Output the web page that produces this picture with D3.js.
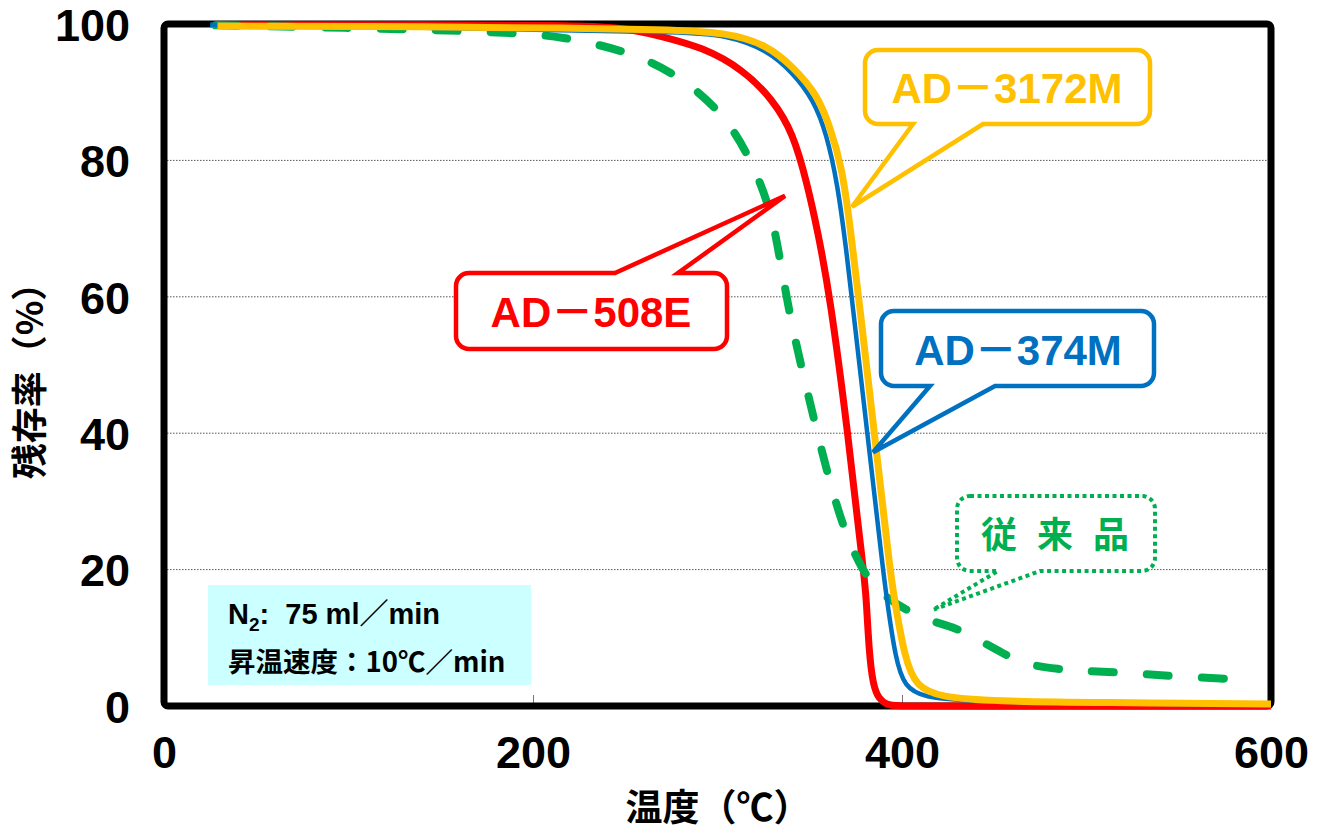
<!DOCTYPE html>
<html>
<head>
<meta charset="utf-8">
<script src="https://cdn.jsdelivr.net/npm/d3@7"></script>
<style>
  html, body { margin: 0; padding: 0; background: #fff; }
  svg { display: block; }
  text { white-space: pre; }
</style>
</head>
<body>
<div id="chart"></div>
<script>
// ---------------- data ----------------
const xTicks = [0, 200, 400, 600];
const yTicks = [0, 20, 40, 60, 80, 100];
const yGrid = [20, 40, 60, 80];

const redT = [28, 150, 215, 250, 269, 292, 314, 330, 341, 348.5, 354.5, 361, 370.7, 379, 380.5, 382.1, 384.3, 387.5, 391.8, 396, 420, 600];
const redV = [99.9, 99.9, 99.8, 99.5, 98.2, 96.6, 93.3, 88.9, 84, 76.7, 69.4, 60, 40, 20, 16.6, 8, 3, 1, 0.2, 0, 0, 0];

const blueT = [25, 150, 215, 280, 305, 327, 341, 352, 359, 365, 369.8, 372.7, 381.2, 389.7, 391.3, 396.5, 401.6, 411, 438, 600];
const blueV = [99.9, 99.4, 99.1, 98.8, 98.4, 96.2, 92.8, 88.9, 84, 76.7, 66.9, 60, 40, 20, 16.6, 6.7, 2.8, 1.3, 0.5, 0.2];

const yellowT = [29, 150, 215, 270, 305, 327, 341, 354, 361, 367.5, 371.8, 376.5, 385, 393.5, 395.3, 401.6, 408, 420.6, 450, 507, 600];
const yellowV = [99.7, 99.6, 99.4, 99.2, 98.8, 96.9, 93.7, 89.7, 84.9, 79, 70.5, 60, 40, 20, 16.6, 6.7, 2.8, 1.3, 0.7, 0.5, 0.3];

const greenT = [28, 130, 190, 215, 249, 276, 300, 316, 328.5, 333, 339.3, 346.3, 352.8, 360, 369, 379, 388, 402.7, 413.5, 430, 441, 456, 468, 485, 498, 522, 545, 575, 590];
const greenV = [99.8, 99.3, 98.7, 98.2, 96.2, 93, 87.8, 81.5, 73.2, 66.9, 57, 48.8, 41.5, 33.6, 25.4, 19.6, 16.5, 14, 12.6, 11.4, 9.8, 7.5, 6, 5.4, 5.1, 4.9, 4.4, 4.0, 3.8];

const seriesNames = ["AD－508E", "従来品", "AD－374M", "AD－3172M"];
// callout tips in data coordinates [temperature, residual %]
const tipT = [336.6, 416.8, 384.3, 372.9];
const tipV = [74.8, 14.1, 37.2, 73.2];

const infoLine1 = ["N", "2", ":  75 ml／min"];
const infoLine2 = "昇温速度：10℃／min";
const xTitle = "温度（℃）";
const yTitle = "残存率（%）";

(function () {
// ---------------- layout ----------------
const W = 1326, H = 833;
const pL = 164, pR = 1271, pT = 24, pB = 706;
const LATIN = "'Liberation Sans', Arial, 'Noto Sans CJK JP', sans-serif";
const CJK = "'Noto Sans CJK JP', 'Liberation Sans', sans-serif";

const svg = d3.select("#chart").append("svg").attr("width", W).attr("height", H);
svg.append("rect").attr("width", W).attr("height", H).attr("fill", "#fff");

const x = d3.scaleLinear().domain([0, 600]).range([pL, pR]);
const y = d3.scaleLinear().domain([0, 100]).range([pB, pT]);

// gridlines
svg.append("g").selectAll("line").data(yGrid).join("line")
  .attr("x1", pL).attr("x2", pR)
  .attr("y1", d => y(d)).attr("y2", d => y(d))
  .attr("stroke", "#555").attr("stroke-width", 1).attr("stroke-dasharray", "1.5,1.5");

// info box
svg.append("rect").attr("x", 208).attr("y", 585).attr("width", 323).attr("height", 100).attr("fill", "#CCFFFF");
const t1 = svg.append("text").attr("x", 228).attr("y", 624)
  .attr("font-family", LATIN).attr("font-weight", "bold").attr("font-size", 29).attr("fill", "#000");
t1.append("tspan").text(infoLine1[0]);
t1.append("tspan").attr("font-size", 19).attr("dy", 7).text(infoLine1[1]);
t1.append("tspan").attr("dy", -7).text(infoLine1[2]);
svg.append("text").attr("x", 228).attr("y", 672)
  .attr("font-family", CJK).attr("font-weight", "bold").attr("font-size", 27.5).attr("fill", "#000")
  .text(infoLine2);

// axes
const xAxis = svg.append("g").attr("transform", `translate(0,${pB})`)
  .call(d3.axisBottom(x).tickValues(xTicks).tickSizeInner(-11).tickSizeOuter(0).tickFormat(d3.format("d")));
xAxis.select(".domain").remove();
xAxis.selectAll(".tick line").attr("stroke", "#777");
xAxis.selectAll(".tick text").attr("y", 46).attr("dy", "0.36em")
  .attr("font-family", LATIN).attr("font-weight", "bold").attr("font-size", 45).attr("fill", "#000");

const yAxis = svg.append("g").attr("transform", `translate(${pL},0)`)
  .call(d3.axisLeft(y).tickValues(yTicks).tickSize(0).tickPadding(34).tickFormat(d3.format("d")));
yAxis.select(".domain").remove();
yAxis.selectAll(".tick text").attr("dy", "0.36em")
  .attr("font-family", LATIN).attr("font-weight", "bold").attr("font-size", 45).attr("fill", "#000");

// frame
svg.append("rect").attr("x", pL).attr("y", pT).attr("width", pR - pL).attr("height", pB - pT)
  .attr("fill", "none").attr("stroke", "#000").attr("stroke-width", 7).attr("rx", 4);

// axis titles
svg.append("text").attr("x", 718).attr("y", 808).attr("dy", "0.36em").attr("text-anchor", "middle")
  .attr("font-family", CJK).attr("font-weight", "bold").attr("font-size", 37).attr("fill", "#000").text(xTitle);
svg.append("text").attr("transform", "translate(30,372) rotate(-90)").attr("dy", "0.36em").attr("text-anchor", "middle")
  .attr("font-family", CJK).attr("font-weight", "bold").attr("font-size", 36).attr("fill", "#000").text(yTitle);

// series
const line = d3.line().x(d => x(d[0])).y(d => y(d[1])).curve(d3.curveBasis);
const zip = (a, b) => a.map((v, i) => [v, b[i]]);

svg.append("path").datum(zip(redT, redV)).attr("d", line).attr("fill", "none")
  .attr("stroke", "#FF0000").attr("stroke-width", 7).attr("stroke-linejoin", "round");
svg.append("path").datum(zip(greenT, greenV)).attr("d", line).attr("fill", "none")
  .attr("stroke", "#00B050").attr("stroke-width", 8).attr("stroke-linecap", "round")
  .attr("stroke-dasharray", "22,33");
svg.append("path").datum(zip(blueT, blueV)).attr("d", line).attr("fill", "none")
  .attr("stroke", "#0070C0").attr("stroke-width", 4.5).attr("stroke-linejoin", "round");
svg.append("path").datum(zip(yellowT, yellowV)).attr("d", line).attr("fill", "none")
  .attr("stroke", "#FFC000").attr("stroke-width", 7).attr("stroke-linejoin", "round");

// callouts
function calloutPath(b, bx1, bx2, tx, ty, side) {
  const r = 13;
  const p = d3.path();
  if (side === "top") {
    p.moveTo(b.x0 + r, b.y0);
    p.lineTo(bx1, b.y0); p.lineTo(tx, ty); p.lineTo(bx2, b.y0);
    p.lineTo(b.x1 - r, b.y0);
  } else {
    p.moveTo(b.x0 + r, b.y0);
    p.lineTo(b.x1 - r, b.y0);
  }
  p.arcTo(b.x1, b.y0, b.x1, b.y0 + r, r);
  p.lineTo(b.x1, b.y1 - r);
  p.arcTo(b.x1, b.y1, b.x1 - r, b.y1, r);
  if (side === "bottom") {
    p.lineTo(bx2, b.y1); p.lineTo(tx, ty); p.lineTo(bx1, b.y1);
  }
  p.lineTo(b.x0 + r, b.y1);
  p.arcTo(b.x0, b.y1, b.x0, b.y1 - r, r);
  p.lineTo(b.x0, b.y0 + r);
  p.arcTo(b.x0, b.y0, b.x0 + r, b.y0, r);
  p.closePath();
  return p.toString();
}

const callouts = [
  { box: { x0: 456, y0: 273, x1: 727, y1: 349 }, bx1: 615, bx2: 678, side: "top", color: "#FF0000", tx: 591, ty: 327, fs: 42, dotted: false },
  { box: { x0: 957, y0: 496, x1: 1155, y1: 571 }, bx1: 998, bx2: 1040, side: "bottom", color: "#00B050", tx: 1055, ty: 548, fs: 36, dotted: true },
  { box: { x0: 881, y0: 311, x1: 1154, y1: 386 }, bx1: 930, bx2: 995, side: "bottom", color: "#0070C0", tx: 1018, ty: 365, fs: 42, dotted: false },
  { box: { x0: 865, y0: 50, x1: 1150, y1: 124 }, bx1: 913, bx2: 983, side: "bottom", color: "#FFC000", tx: 1007, ty: 103, fs: 42, dotted: false }
];

callouts.forEach((c, i) => {
  const path = svg.append("path")
    .attr("d", calloutPath(c.box, c.bx1, c.bx2, x(tipT[i]), y(tipV[i]), c.side))
    .attr("fill", "#fff").attr("stroke", c.color);
  if (c.dotted) {
    path.attr("stroke-width", 4).attr("stroke-dasharray", "4,3.5");
  } else {
    path.attr("stroke-width", 4.5).attr("stroke-linejoin", "miter");
  }
  const t = svg.append("text").attr("x", c.tx).attr("y", c.ty).attr("text-anchor", "middle")
    .attr("font-weight", "bold").attr("font-size", c.fs).attr("fill", c.color)
    .text(seriesNames[i]);
  if (c.dotted) {
    t.attr("font-family", CJK).attr("letter-spacing", 20).attr("x", c.tx + 10);
  } else {
    t.attr("font-family", LATIN);
  }
});
})();
</script>
</body>
</html>
